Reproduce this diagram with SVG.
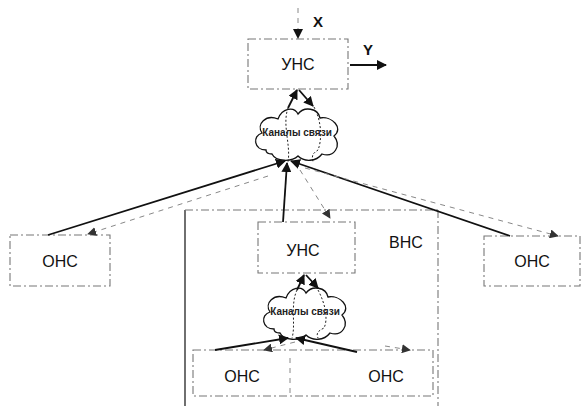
<svg xmlns="http://www.w3.org/2000/svg" width="582" height="406" viewBox="0 0 582 406">
<style>
text{font-family:"Liberation Sans",Arial,sans-serif;fill:#111}
.lbl{font-size:16px}
.cl{font-size:10px;font-weight:bold;fill:#222}
.xy{font-size:15px;font-weight:bold}
.box{fill:none;stroke:#777;stroke-width:1.1;stroke-dasharray:8 3 2 3}
.solid{fill:none;stroke:#111;stroke-width:1.8}
.dash{fill:none;stroke:#888;stroke-width:1;stroke-dasharray:5 5}
.dot{fill:none;stroke:#222;stroke-width:1;stroke-dasharray:2 2}
.cloud{fill:#fff;stroke:#111;stroke-width:1.3}
</style>
<defs>
<marker id="ah" viewBox="0 0 10 10" refX="9" refY="5" markerWidth="10" markerHeight="10" markerUnits="userSpaceOnUse" orient="auto">
<path d="M0,0 L10,5 L0,10 Z" fill="#111"/>
</marker>
<marker id="ahg" viewBox="0 0 10 10" refX="9" refY="5" markerWidth="9" markerHeight="9" markerUnits="userSpaceOnUse" orient="auto">
<path d="M0,0 L10,5 L0,10 Z" fill="#333"/>
</marker>
<path id="cloudShape" d="M14,46 C2,46 0,32 10,29 C4,20 14,10 26,15 C30,4 42,2 46,10 C52,2 66,4 68,14 C80,12 92,24 82,32 C90,42 82,54 70,50 C64,58 52,58 46,52 C40,58 24,58 20,50 C16,50 14,48 14,46 Z"/>
</defs>

<g id="vns">
<path d="M185,406 L185,210" fill="none" stroke="#222" stroke-width="1.3"/>
<path d="M185,210 L440,210" class="box"/>
<path d="M438,210 L438,406" class="box"/>
<text x="406" y="248" class="lbl" text-anchor="middle">ВНС</text>
</g>

<g id="unc-top">
<rect x="248" y="39" width="100" height="50" class="box"/>
<text x="298" y="70" class="lbl" text-anchor="middle">УНС</text>
</g>

<g id="cloud-top">
<use href="#cloudShape" transform="translate(252,104)" class="cloud"/>
<text x="297" y="136" class="cl" text-anchor="middle">Каналы связи</text>
</g>

<g id="ohc-left">
<rect x="10" y="235" width="100" height="51" class="box"/>
<text x="60" y="267" class="lbl" text-anchor="middle">ОНС</text>
</g>

<g id="ohc-right">
<rect x="484" y="236" width="96" height="50" class="box"/>
<text x="532" y="267" class="lbl" text-anchor="middle">ОНС</text>
</g>

<g id="unc-inner">
<rect x="258" y="222" width="97" height="51" class="box"/>
<text x="303" y="256" class="lbl" text-anchor="middle">УНС</text>
</g>

<g id="cloud-inner">
<use href="#cloudShape" transform="translate(260,283)" class="cloud"/>
<text x="305" y="315" class="cl" text-anchor="middle">Каналы связи</text>
</g>

<g id="ohc-inner">
<rect x="193" y="350" width="240" height="46" class="box"/>
<path d="M290,358 L290,396" class="dash" stroke="#aaa"/>
<text x="242" y="382" class="lbl" text-anchor="middle">ОНС</text>
<text x="386" y="382" class="lbl" text-anchor="middle">ОНС</text>
</g>

<g id="labels-xy">
<text x="318" y="27" class="xy" text-anchor="middle">X</text>
<text x="368" y="55" class="xy" text-anchor="middle">Y</text>
</g>

<g id="connectors">
<path d="M298,8 L298,38" class="dash" stroke="#333" marker-end="url(#ah)"/>
<path d="M350,65 L386,65" class="solid" stroke-width="1.4" marker-end="url(#ah)"/>
<path d="M288,108 L297,90" class="solid" marker-end="url(#ah)"/>
<path d="M299,90 L313,106" class="solid" marker-end="url(#ah)"/>
<path d="M288,108 C282,125 291,145 288,162" class="dot"/>
<path d="M314,107 C322,122 322,140 318,150 C314,153 311,154 313,162" class="dot"/>
<path d="M48,235 L285,161" class="solid" marker-end="url(#ah)"/>
<path d="M268,176 L88,234" class="dash" marker-end="url(#ahg)"/>
<path d="M283,222 L287,163" class="solid" marker-end="url(#ah)"/>
<path d="M300,170 L330,218" class="dash" marker-end="url(#ahg)"/>
<path d="M510,236 L291,161" class="solid" marker-end="url(#ah)"/>
<path d="M305,168 L558,236" class="dash" marker-end="url(#ahg)"/>
<path d="M297,290 L304,275" class="solid" marker-end="url(#ah)"/>
<path d="M306,275 L318,288" class="solid" marker-end="url(#ah)"/>
<path d="M297,290 C290,305 296,325 292,338" class="dot"/>
<path d="M318,290 C326,305 328,320 324,328 C318,331 316,333 318,338" class="dot"/>
<path d="M215,350 L288,338" class="solid" marker-end="url(#ah)"/>
<path d="M295,342 L264,350" class="dash" marker-end="url(#ahg)"/>
<path d="M357,352 L296,338" class="solid" marker-end="url(#ah)"/>
<path d="M385,346 L410,350" class="dash" marker-end="url(#ahg)"/>
</g>
</svg>
